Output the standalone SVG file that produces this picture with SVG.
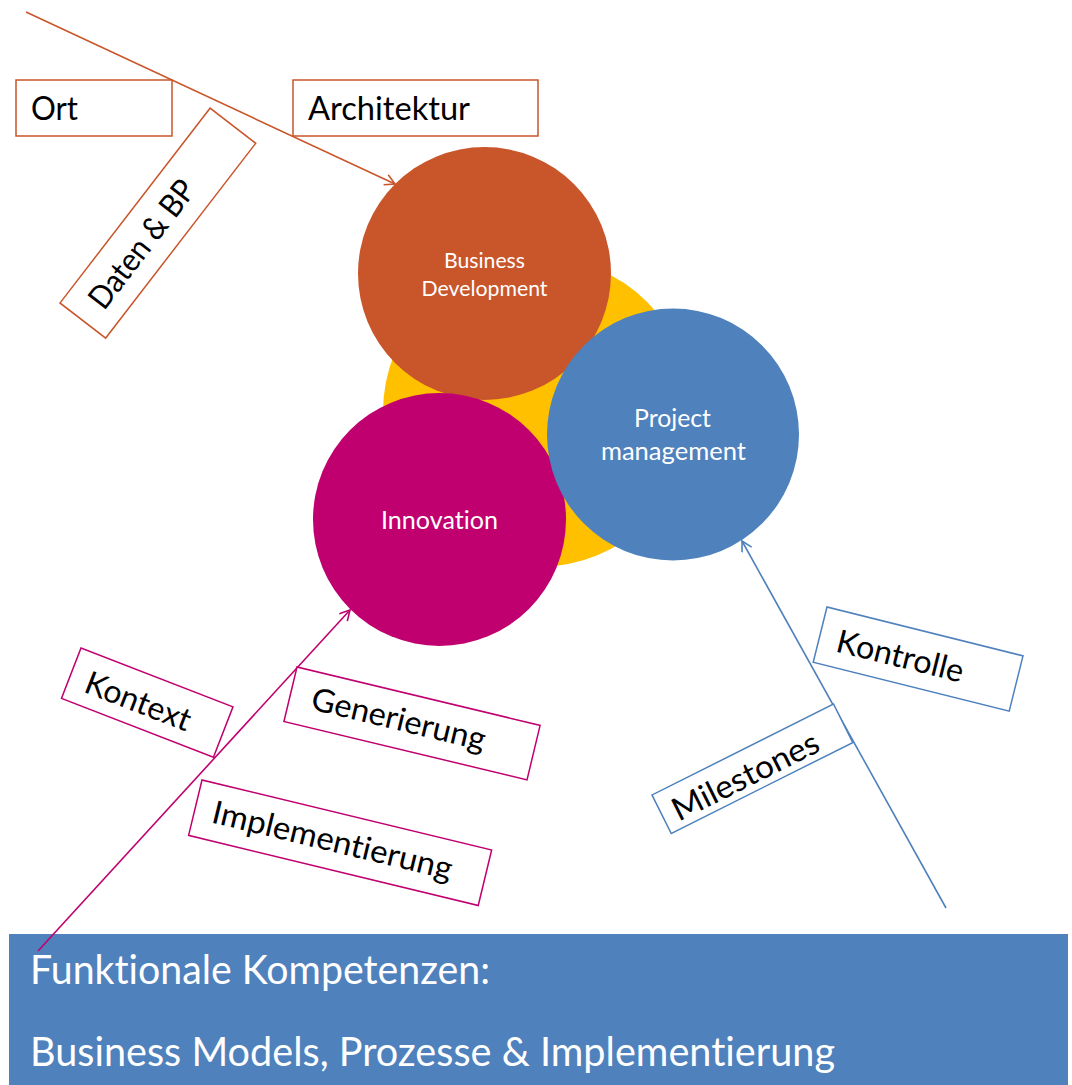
<svg xmlns="http://www.w3.org/2000/svg" width="1072" height="1085" viewBox="0 0 1072 1085">
<style>
text{font-variant-ligatures:none;font-feature-settings:"liga" 0,"clig" 0}
.lbl{font-family:Lato,"Open Sans","Liberation Sans",sans-serif;font-size:32px;fill:#000}
.ctxt{font-family:Lato,"Open Sans","Liberation Sans",sans-serif;fill:#fff;text-anchor:middle}
.btxt{font-family:Lato,"Open Sans","Liberation Sans",sans-serif;fill:#fff;font-size:41px}
.bo{fill:#fff;stroke:#C9552A;stroke-width:1.5}
.bm{fill:#fff;stroke:#C0006F;stroke-width:1.5}
.bb{fill:#fff;stroke:#4F81BD;stroke-width:1.5}
.con{fill:none;stroke-width:1.6}
</style>
<defs>
<marker id="aO" markerWidth="14" markerHeight="14" refX="11" refY="6" orient="auto" markerUnits="userSpaceOnUse"><path d="M1,0.5 L11,6 L1,11.5" fill="none" stroke="#C9552A" stroke-width="1.6"/></marker>
<marker id="aM" markerWidth="14" markerHeight="14" refX="11" refY="6" orient="auto" markerUnits="userSpaceOnUse"><path d="M1,0.5 L11,6 L1,11.5" fill="none" stroke="#C0006F" stroke-width="1.6"/></marker>
<marker id="aB" markerWidth="14" markerHeight="14" refX="11" refY="6" orient="auto" markerUnits="userSpaceOnUse"><path d="M1,0.5 L11,6 L1,11.5" fill="none" stroke="#4F81BD" stroke-width="1.6"/></marker>
</defs>
<rect width="1072" height="1085" fill="#fff"/>

<g id="core"><circle cx="538" cy="412" r="155" fill="#FFC000"/></g>
<g id="business-development">
<circle cx="484.5" cy="273.5" r="126.5" fill="#C9552A"/>
<text class="ctxt" x="484.5" y="268" font-size="22" textLength="81" lengthAdjust="spacingAndGlyphs">Business</text>
<text class="ctxt" x="484.5" y="296" font-size="22" textLength="126" lengthAdjust="spacingAndGlyphs">Development</text>
</g>
<g id="innovation">
<circle cx="439.5" cy="519.5" r="126.5" fill="#C0006F"/>
<text class="ctxt" x="439.5" y="529" font-size="25" textLength="117" lengthAdjust="spacingAndGlyphs">Innovation</text>
</g>
<g id="project-management">
<circle cx="673" cy="434.5" r="126" fill="#4F81BD"/>
<text class="ctxt" x="672.5" y="427" font-size="25" textLength="77" lengthAdjust="spacingAndGlyphs">Project</text>
<text class="ctxt" x="673.4" y="460" font-size="25" textLength="145" lengthAdjust="spacingAndGlyphs">management</text>
</g>

<g id="banner">
<rect x="9" y="934" width="1059" height="151" fill="#4F81BD"/>
<text class="btxt" x="30" y="984" textLength="460" lengthAdjust="spacingAndGlyphs">Funktionale Kompetenzen:</text>
<text class="btxt" x="30" y="1066" textLength="805" lengthAdjust="spacingAndGlyphs">Business Models, Prozesse &amp; Implementierung</text>
</g>

<g id="connectors">
<line class="con" x1="26" y1="12" x2="395" y2="184" stroke="#C9552A" marker-end="url(#aO)"/>
<line class="con" x1="38" y1="951" x2="350" y2="610" stroke="#C0006F" marker-end="url(#aM)"/>
<line class="con" x1="946" y1="908" x2="742" y2="541" stroke="#4F81BD" marker-end="url(#aB)"/>
</g>

<g id="ort"><rect class="bo" x="16" y="80" width="156" height="56"/><text class="lbl" x="31" y="120" textLength="47" lengthAdjust="spacingAndGlyphs">Ort</text></g>
<g id="architektur"><rect class="bo" x="293" y="80" width="245" height="56"/><text class="lbl" x="308" y="120" textLength="162" lengthAdjust="spacingAndGlyphs">Architektur</text></g>
<g id="daten-bp" transform="translate(60,303) rotate(-52.4)"><rect class="bo" x="0" y="0" width="246" height="57.6"/><text class="lbl" x="20" y="40" textLength="153" lengthAdjust="spacingAndGlyphs">Daten &amp; BP</text></g>

<g id="kontext" transform="translate(81,648) rotate(21.2)"><rect class="bm" x="0" y="0" width="163" height="54"/><text class="lbl" x="17" y="40" textLength="111" lengthAdjust="spacingAndGlyphs">Kontext</text></g>
<g id="generierung" transform="translate(297,667) rotate(13.5)"><rect class="bm" x="0" y="0" width="250" height="56"/><text class="lbl" x="22" y="38" textLength="178" lengthAdjust="spacingAndGlyphs">Generierung</text></g>
<g id="implementierung" transform="translate(202,780) rotate(13.6)"><rect class="bm" x="0" y="0" width="298" height="57"/><text class="lbl" x="18" y="39" textLength="246" lengthAdjust="spacingAndGlyphs">Implementierung</text></g>

<g id="kontrolle" transform="translate(827,607) rotate(14)"><rect class="bb" x="0" y="0" width="202" height="57"/><text class="lbl" x="18" y="41" textLength="130" lengthAdjust="spacingAndGlyphs">Kontrolle</text></g>
<g id="milestones" transform="translate(652,795) rotate(-26.6)"><rect class="bb" x="0" y="0" width="203" height="43"/><text class="lbl" x="12" y="36" textLength="160" lengthAdjust="spacingAndGlyphs">Milestones</text></g>
</svg>
